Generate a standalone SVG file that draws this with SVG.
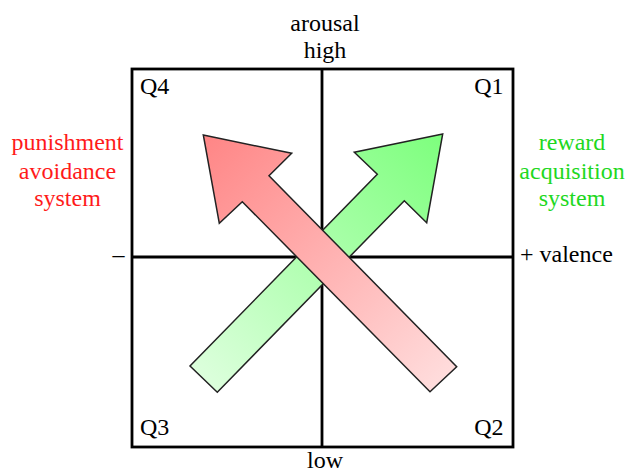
<svg xmlns="http://www.w3.org/2000/svg" width="628" height="472" viewBox="0 0 628 472">
  <style>
    text { font-family: "Liberation Serif", "Times New Roman", serif; font-size: 24px; fill: #000; }
    .red { fill: #ff1a1a; }
    .green { fill: #1ed81e; }
    .mid { text-anchor: middle; }
    .end { text-anchor: end; }
    .axis { stroke: #000; stroke-width: 2.8; fill: none; }
    .arrow { stroke: #222; stroke-width: 1.5; stroke-linejoin: miter; }
  </style>
  <defs>
    <linearGradient id="gRed" gradientUnits="userSpaceOnUse" x1="203" y1="135" x2="443" y2="379">
      <stop offset="0" stop-color="#ff8585"/>
      <stop offset="1" stop-color="#ffdcdc"/>
    </linearGradient>
    <linearGradient id="gGreen" gradientUnits="userSpaceOnUse" x1="443" y1="134" x2="204" y2="379">
      <stop offset="0" stop-color="#7dff7d"/>
      <stop offset="1" stop-color="#dcffdc"/>
    </linearGradient>
  </defs>
  <rect width="628" height="472" fill="#fff"/>
  <g id="frame">
    <rect x="132" y="69" width="381" height="378" fill="#f1f1f1" class="axis"/>
    <line x1="322" y1="69" x2="322" y2="447" class="axis"/>
    <line x1="132" y1="257" x2="513" y2="257" class="axis"/>
  </g>
  <g id="connectors">
    <g id="reward-arrow">
      <polygon class="arrow" fill="url(#gGreen)" points="442.7,134 354.3,152.3 377.3,174.3 190,366 217.3,392.3 404.3,200.7 426.7,222.7"/>
    </g>
    <g id="punishment-arrow">
      <polygon class="arrow" fill="url(#gRed)" points="203.3,135 291.7,153.3 269,175.7 456.7,366.7 430,391.7 242.3,201.7 219.3,223.3"/>
    </g>
  </g>
  <g id="axis-labels">
    <text x="325" y="31" class="mid">arousal</text>
    <text x="325" y="58" class="mid">high</text>
    <text x="325" y="468" class="mid">low</text>
    <text x="124.5" y="262" class="end">–</text>
    <text x="520" y="262">+ valence</text>
  </g>
  <g id="quadrants">
    <text x="140" y="94">Q4</text>
    <text x="503.5" y="94" class="end">Q1</text>
    <text x="140" y="435">Q3</text>
    <text x="503.5" y="435" class="end">Q2</text>
  </g>
  <g id="punishment-label">
    <text x="67.5" y="150" class="mid red">punishment</text>
    <text x="67.5" y="179" class="mid red">avoidance</text>
    <text x="67.5" y="206" class="mid red">system</text>
  </g>
  <g id="reward-label">
    <text x="572" y="150" class="mid green">reward</text>
    <text x="572" y="179" class="mid green">acquisition</text>
    <text x="572" y="206" class="mid green">system</text>
  </g>
</svg>
